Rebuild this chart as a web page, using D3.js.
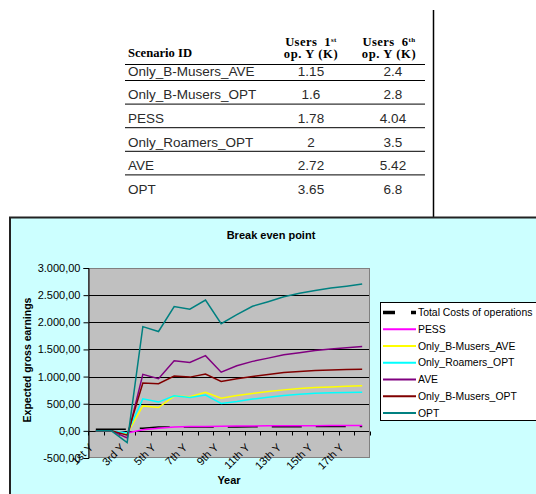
<!DOCTYPE html>
<meta charset="utf-8">
<style>
    body { margin: 0; background: #fff; }
    svg text { font-family: "Liberation Sans", Arial, sans-serif; }
    .line { fill: none; stroke-width: 1.5; }
</style>
<svg width="536" height="494"></svg>
<script src="https://d3js.org/d3.v7.min.js"></script>
<script>

    // table at the top
    var scenarios = ["Only_B-Musers_AVE", "Only_B-Musers_OPT", "PESS", "Only_Roamers_OPT", "AVE", "OPT"];
    var users1st = ["1.15", "1.6", "1.78", "2", "2.72", "3.65"];
    var users6th = ["2.4", "2.8", "4.04", "3.5", "5.42", "6.8"];

    // chart data
    var years = ["1st Y", "2nd Y", "3rd Y", "4th Y", "5th Y", "6th Y", "7th Y", "8th Y", "9th Y",
        "10th Y", "11th Y", "12th Y", "13th Y", "14th Y", "15th Y", "16th Y", "17th Y", "18th Y"];
    var yTicks = [-500, 0, 500, 1000, 1500, 2000, 2500, 3000];

    var totalCosts = [30, 30, 30, 50, 70, 72, 72, 72, 72, 72, 74, 75, 76, 77, 78, 79, 80, 80];
    var pess = [0, 0, -40, 20, 50, 70, 80, 82, 85, 88, 90, 92, 94, 95, 96, 97, 98, 99];
    var onlyBMusersAve = [0, 0, -50, 460, 430, 640, 630, 710, 600, 650, 690, 725, 755, 780, 800, 810, 820, 830];
    var onlyRoamersOpt = [0, 0, -40, 590, 530, 645, 615, 660, 505, 540, 585, 620, 650, 675, 695, 700, 705, 713];
    var ave = [0, 0, -130, 1040, 960, 1290, 1260, 1385, 1080, 1200, 1280, 1340, 1400, 1440, 1480, 1510, 1530, 1555];
    var onlyBMusersOpt = [0, 0, -80, 880, 870, 1010, 990, 1045, 910, 960, 1000, 1040, 1075, 1095, 1110, 1120, 1130, 1135];
    var opt = [0, 0, -215, 1920, 1830, 2290, 2240, 2410, 1975, 2140, 2295, 2380, 2470, 2535, 2585, 2630, 2665, 2705];

    var series = [
        { name: "Total Costs of operations", values: totalCosts, color: "#000", width: 3.5, dash: "30,14" },
        { name: "PESS", values: pess, color: "#ff00ff", width: 1.5 },
        { name: "Only_B-Musers_AVE", values: onlyBMusersAve, color: "#ffff00", width: 1.5 },
        { name: "Only_Roamers_OPT", values: onlyRoamersOpt, color: "#00ffff", width: 1.5 },
        { name: "AVE", values: ave, color: "#800080", width: 1.5 },
        { name: "Only_B-Musers_OPT", values: onlyBMusersOpt, color: "#800000", width: 1.5 },
        { name: "OPT", values: opt, color: "#008080", width: 1.5 }
    ];

    var svg = d3.select("svg");

    // ---- table ----
    var table = svg.append("g");

    table.append("line")
        .attr("x1", 433.5).attr("x2", 433.5)
        .attr("y1", 10).attr("y2", 218)
        .attr("stroke", "#000").attr("stroke-width", 1.5);

    var headerFont = "'Liberation Serif', 'Times New Roman', serif";

    table.append("text")
        .attr("x", 128).attr("y", 57)
        .style("font-family", headerFont)
        .style("font-weight", "bold").style("font-size", "12.6px")
        .text("Scenario ID");

    var colX = [311, 389];
    var colSup = [["1", "st"], ["6", "th"]];
    colSup.forEach(function (c, i) {
        var t = table.append("text")
            .attr("x", colX[i]).attr("y", 46)
            .attr("text-anchor", "middle")
            .style("font-family", headerFont)
            .style("font-weight", "bold").style("font-size", "12.6px")
            .style("letter-spacing", "0.4px");
        t.append("tspan").text("Users\u00a0\u00a0" + c[0]);
        t.append("tspan").attr("dy", -4).style("font-size", "7px").text(c[1]);
        table.append("text")
            .attr("x", colX[i]).attr("y", 57.5)
            .attr("text-anchor", "middle")
            .style("font-family", headerFont)
            .style("font-weight", "bold").style("font-size", "12.6px")
            .style("letter-spacing", "0.6px")
            .text("op. Y (K)");
    });

    var rowY = d3.scalePoint().domain(scenarios).range([71, 189]);

    table.append("line")
        .attr("x1", 125).attr("x2", 425)
        .attr("y1", 64.5).attr("y2", 64.5)
        .attr("stroke", "#000");

    table.selectAll(".rowline")
        .data(scenarios.slice(0, -1))
        .enter().append("line")
        .attr("class", "rowline")
        .attr("x1", 125).attr("x2", 425)
        .attr("y1", function (d) { return rowY(d) + 9.5; })
        .attr("y2", function (d) { return rowY(d) + 9.5; })
        .attr("stroke", "#000");

    var rows = table.selectAll(".row")
        .data(scenarios)
        .enter().append("g")
        .attr("class", "row")
        .attr("transform", function (d) { return "translate(0," + (rowY(d) + 4.8) + ")"; })
        .style("font-size", "13.5px")
        .style("fill", "#2a2a2a");

    rows.append("text").attr("x", 128).text(function (d) { return d; });
    rows.append("text").attr("x", 311).attr("text-anchor", "middle")
        .text(function (d, i) { return users1st[i]; });
    rows.append("text").attr("x", 393).attr("text-anchor", "middle")
        .text(function (d, i) { return users6th[i]; });

    // ---- chart ----
    svg.append("rect")
        .attr("x", 10).attr("y", 217.5)
        .attr("width", 540).attr("height", 290)
        .attr("fill", "#ccffff")
        .attr("stroke", "#222").attr("stroke-width", 2);

    svg.append("text")
        .attr("x", 271).attr("y", 239)
        .attr("text-anchor", "middle")
        .style("font-weight", "bold").style("font-size", "11px")
        .text("Break even point");

    var x = d3.scaleBand()
        .domain(years)
        .range([88, 370]);

    var y = d3.scaleLinear()
        .domain([-500, 3000])
        .range([458, 268]);

    svg.append("rect")
        .attr("x", 88).attr("y", 268)
        .attr("width", 282).attr("height", 190)
        .attr("fill", "#c0c0c0");

    // gridlines
    svg.selectAll(".grid")
        .data(yTicks.filter(function (d) { return d > -500 && d < 3000; }))
        .enter().append("line")
        .attr("class", "grid")
        .attr("x1", 88).attr("x2", 370)
        .attr("y1", function (d) { return Math.round(y(d)) + 0.5; })
        .attr("y2", function (d) { return Math.round(y(d)) + 0.5; })
        .attr("stroke", "#000");

    svg.append("rect")
        .attr("x", 88.5).attr("y", 268.5)
        .attr("width", 281).attr("height", 189)
        .attr("fill", "none")
        .attr("stroke", "#808080");

    // y axis
    var fmt = d3.formatLocale({ decimal: ",", thousands: ".", grouping: [3], currency: ["", ""], minus: "-" }).format(",.2f");

    var yAxis = svg.append("g")
        .attr("transform", "translate(88.5,0)")
        .call(d3.axisLeft(y).tickValues(yTicks).tickSize(5).tickPadding(3).tickFormat(fmt));
    yAxis.select(".domain").attr("stroke", "#000");
    yAxis.selectAll("line").attr("stroke", "#000");
    yAxis.selectAll("text")
        .style("font-size", "11px")
        .style("font-family", "'Liberation Sans', Arial, sans-serif")
        .attr("fill", "#000");

    // x ticks on the zero line, between categories
    var y0 = Math.round(y(0)) + 0.5;
    svg.selectAll(".xtick")
        .data(d3.range(years.length + 1))
        .enter().append("line")
        .attr("class", "xtick")
        .attr("x1", function (i) { return Math.round(x.range()[0] + i * x.step()) + 0.5; })
        .attr("x2", function (i) { return Math.round(x.range()[0] + i * x.step()) + 0.5; })
        .attr("y1", y0).attr("y2", y0 + 4)
        .attr("stroke", "#000");

    // x labels at the bottom, every other year
    svg.selectAll(".xlabel")
        .data(years.filter(function (d, i) { return i % 2 === 0; }))
        .enter().append("text")
        .attr("class", "xlabel")
        .attr("text-anchor", "end")
        .attr("transform", function (d) {
            return "translate(" + (x(d) + x.bandwidth() / 2 - 2) + ",448) rotate(-45)";
        })
        .style("font-size", "11px")
        .text(function (d) { return d; });

    svg.append("text")
        .attr("x", 229).attr("y", 484)
        .attr("text-anchor", "middle")
        .style("font-weight", "bold").style("font-size", "11px")
        .text("Year");

    svg.append("text")
        .attr("transform", "translate(31,360) rotate(-90)")
        .attr("text-anchor", "middle")
        .style("font-weight", "bold").style("font-size", "10.5px")
        .text("Expected gross earnings");

    // lines
    var line = d3.line()
        .x(function (d, i) { return x(years[i]) + x.bandwidth() / 2; })
        .y(function (d) { return y(d); });

    svg.selectAll(".line")
        .data(series)
        .enter().append("path")
        .attr("class", "line")
        .attr("d", function (d) { return line(d.values); })
        .attr("stroke", function (d) { return d.color; })
        .attr("stroke-width", function (d) { return d.width; })
        .attr("stroke-dasharray", function (d) { return d.dash || null; });

    // legend
    var legend = svg.append("g");
    legend.append("rect")
        .attr("x", 380.5).attr("y", 302.5)
        .attr("width", 170).attr("height", 118)
        .attr("fill", "#fff")
        .attr("stroke", "#000");

    var legendY = d3.scalePoint().domain(series.map(function (d) { return d.name; })).range([312.5, 413]);

    var items = legend.selectAll(".item")
        .data(series)
        .enter().append("g")
        .attr("class", "item")
        .attr("transform", function (d) { return "translate(0," + legendY(d.name) + ")"; });

    items.append("line")
        .attr("x1", 383).attr("x2", 416)
        .attr("stroke", function (d) { return d.color; })
        .attr("stroke-width", function (d) { return d.dash ? 3.5 : 2; })
        .attr("stroke-dasharray", function (d) { return d.dash ? "12,16,30" : null; });

    items.append("text")
        .attr("x", 418).attr("dy", "0.35em")
        .style("font-size", "10.4px")
        .text(function (d) { return d.name; });

</script>
